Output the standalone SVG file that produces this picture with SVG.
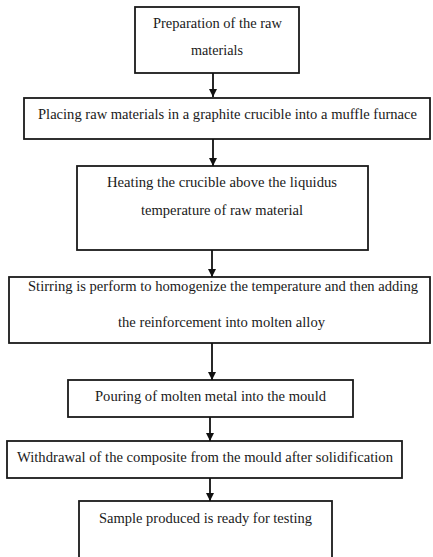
<svg xmlns="http://www.w3.org/2000/svg" width="433" height="557" viewBox="0 0 433 557">
<defs>
<marker id="ah" viewBox="0 0 8 10" refX="8" refY="5" markerWidth="8" markerHeight="10" markerUnits="userSpaceOnUse" orient="auto">
<path d="M0,1 L8,5 L0,9 Z" fill="#111"/>
</marker>
</defs>
<style>
rect{fill:#fff;stroke:#1a1a1a;stroke-width:1.8}
text{font-family:"Liberation Serif","Times New Roman",serif;font-size:15px;fill:#1a1a1a;text-anchor:middle}
.c line{stroke:#111;stroke-width:1.8;marker-end:url(#ah)}
</style>
<rect x="0" y="0" width="433" height="557" style="fill:#fff;stroke:none"/>
<g id="n1"><rect x="135" y="7" width="164" height="66"/>
<text x="217.5" y="28" textLength="129" lengthAdjust="spacingAndGlyphs">Preparation of the raw</text>
<text x="217" y="55" textLength="52" lengthAdjust="spacingAndGlyphs">materials</text></g>
<g id="n2"><rect x="24" y="98" width="406" height="41"/>
<text x="227.5" y="119" textLength="379" lengthAdjust="spacingAndGlyphs">Placing raw materials in a graphite crucible into a muffle furnace</text></g>
<g id="n3"><rect x="77" y="166" width="291" height="84"/>
<text x="222" y="187" textLength="230" lengthAdjust="spacingAndGlyphs">Heating the crucible above the liquidus</text>
<text x="222" y="215" textLength="162" lengthAdjust="spacingAndGlyphs">temperature of raw material</text></g>
<g id="n4"><rect x="9" y="277" width="421" height="66"/>
<text x="223" y="291" textLength="390" lengthAdjust="spacingAndGlyphs">Stirring is perform to homogenize the temperature and then adding</text>
<text x="221.5" y="327" textLength="207" lengthAdjust="spacingAndGlyphs">the reinforcement into molten alloy</text></g>
<g id="n5"><rect x="68" y="380" width="285" height="37"/>
<text x="210.5" y="401" textLength="231" lengthAdjust="spacingAndGlyphs">Pouring of molten metal into the mould</text></g>
<g id="n6"><rect x="7" y="441" width="395" height="37"/>
<text x="205" y="462" textLength="376" lengthAdjust="spacingAndGlyphs">Withdrawal of the composite from the mould after solidification</text></g>
<g id="n7"><rect x="79" y="501" width="253" height="60"/>
<text x="205.5" y="523" textLength="213" lengthAdjust="spacingAndGlyphs">Sample produced is ready for testing</text></g>
<g class="c" id="connectors">
<line x1="213" y1="73" x2="213" y2="97"/>
<line x1="213" y1="139" x2="213" y2="166"/>
<line x1="212" y1="250" x2="212" y2="277"/>
<line x1="212" y1="343" x2="212" y2="380"/>
<line x1="210" y1="417" x2="210" y2="441"/>
<line x1="210" y1="478" x2="210" y2="501"/>
</g>
</svg>
